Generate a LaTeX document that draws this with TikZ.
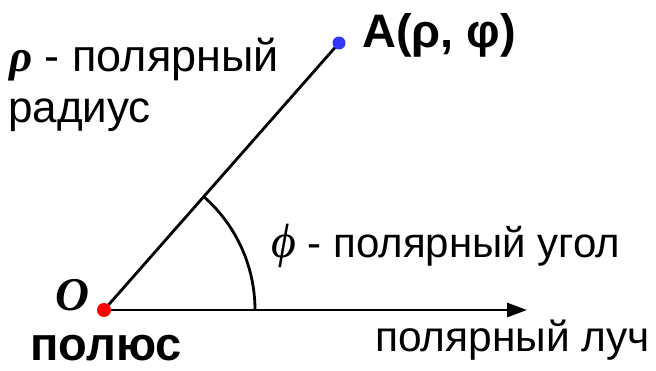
\documentclass[tikz,border=0pt]{standalone}
\usepackage{fontspec}
\setmainfont{Liberation Sans}
\newfontfamily\serifit{Liberation Serif}
\usetikzlibrary{arrows.meta}
\definecolor{dotblue}{RGB}{50,55,250}
\begin{document}
\begin{tikzpicture}[x=1pt,y=1pt,
  lbl/.style={anchor=base west, inner sep=0pt},
  ln/.style={line width=2.8pt},
  dotstyle/.style={circle, inner sep=0pt, minimum size=#1}]
\useasboundingbox (0,0) rectangle (656,370);
\coordinate (O) at (104,60);
\coordinate (A) at (339,327);
\coordinate (E) at (527,60);
\draw[ln, -{Triangle[length=20pt,width=14pt]}] (O) -- (E);
\draw[ln] (O) -- (A);
\draw[ln] ([shift={(0:151)}]O) arc[start angle=0, end angle=48.65, radius=151];
\node[dotstyle=14pt, fill=red] (Odot) at (O) {};
\node[dotstyle=13pt, fill=dotblue] (Adot) at (A) {};
\node[lbl, font=\fontsize{47}{55}\selectfont\bfseries] (Alab) at (362,322) {A(ρ, φ)};
\node[lbl, font=\fontsize{45}{52}\selectfont] (rho) at (9,298) {{\serifit\bfseries\itshape ρ} - полярный};
\node[lbl, font=\fontsize{44}{52}\selectfont] (rad) at (8,247) {радиус};
\node[lbl, font=\fontsize{42}{50}\selectfont] (phi) at (271,113) {{\serifit\itshape\fontsize{48}{50}\selectfont ϕ} - полярный угол};
\node[lbl, font=\fontsize{47}{55}\selectfont] (Olab) at (55,60) {{\serifit\bfseries\itshape O}};
\node[lbl, font=\fontsize{47}{55}\selectfont\bfseries] (pol) at (30,10) {полюс};
\node[lbl, font=\fontsize{42.5}{50}\selectfont] (ray) at (375,19) {полярный луч};
\end{tikzpicture}
\end{document}
